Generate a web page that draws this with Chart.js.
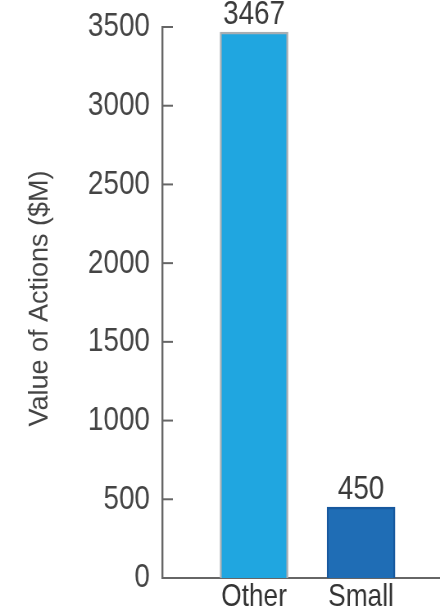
<!DOCTYPE html>
<html>
<head>
<meta charset="utf-8">
<script src="https://cdn.jsdelivr.net/npm/chart.js@4/dist/chart.umd.min.js"></script>
<style>
  html, body { margin: 0; padding: 0; background: #fff; overflow: hidden; }
  /* the reference uses a narrow face; draw wider and squeeze horizontally */
  #wrap { width: 537px; height: 611px; position: relative;
          transform: scaleX(0.8194); transform-origin: 0 0; }
</style>
</head>
<body>
<div id="wrap"><canvas id="chart"></canvas></div>
<script>
'use strict';

const SQUEEZE = 0.8194;

const categories = ['Other', 'Small'];
const values = [3467, 450];
const yTicks = [0, 500, 1000, 1500, 2000, 2500, 3000, 3500];
const yTitle = 'Value of Actions ($M)';

const FONT = "'Liberation Sans', Arial, sans-serif";

// value labels on top of bars, inward tick marks, rotated y title
const extras = {
  id: 'extras',
  afterDatasetsDraw(chart) {
    const ctx = chart.ctx;
    const meta = chart.getDatasetMeta(0);
    ctx.save();
    ctx.fillStyle = '#3a3a3a';
    ctx.font = '34px ' + FONT;
    ctx.textAlign = 'center';
    ctx.textBaseline = 'bottom';
    meta.data.forEach((bar, i) => {
      ctx.fillText(String(values[i]), bar.x, bar.y - 1);
    });

    const y = chart.scales.y;
    const left = chart.chartArea.left;
    ctx.strokeStyle = '#666';
    ctx.lineWidth = 2;
    yTicks.forEach(v => {
      const py = y.getPixelForValue(v);
      ctx.beginPath();
      ctx.moveTo(left, py);
      ctx.lineTo(left + 13, py);
      ctx.stroke();
    });
    ctx.restore();

    // title: undo the horizontal squeeze so the rotated glyphs keep full height
    ctx.save();
    ctx.translate(40 / SQUEEZE, (y.top + y.bottom) / 2 - 4);
    ctx.scale(1 / SQUEEZE, 1);
    ctx.rotate(-Math.PI / 2);
    ctx.fillStyle = '#444';
    ctx.font = '27px ' + FONT;
    ctx.textAlign = 'center';
    ctx.textBaseline = 'middle';
    ctx.fillText(yTitle, 0, 0);
    ctx.restore();
  }
};

new Chart(document.getElementById('chart').getContext('2d'), {
  type: 'bar',
  data: {
    datasets: [{
      data: values.map((v, i) => ({ x: i, y: v })),
      backgroundColor: ['#20a6e0', '#1f6db5'],
      borderColor: ['#a8aeb3', '#17589e'],
      borderWidth: 2.4,
      borderSkipped: 'bottom',
      barThickness: 83,
    }],
  },
  options: {
    responsive: true,
    maintainAspectRatio: false,
    animation: false,
    layout: { padding: { top: 27, left: 0, right: 0, bottom: 0 } },
    plugins: {
      legend: { display: false },
      tooltip: { enabled: false },
    },
    scales: {
      x: {
        type: 'linear',
        offset: false,
        min: -0.858,
        max: 1.738,
        afterBuildTicks: s => { s.ticks = categories.map((c, i) => ({ value: i })); },
        afterFit: s => { s.height = 33; s.paddingLeft = 0; s.paddingRight = 0; },
        ticks: {
          callback: v => categories[v],
          color: '#333',
          font: { family: FONT, size: 32 },
          padding: 0,
          autoSkip: false,
          maxRotation: 0,
        },
        grid: { display: false, drawTicks: false },
        border: { color: '#666', width: 2 },
      },
      y: {
        min: 0,
        max: 3500,
        afterBuildTicks: s => { s.ticks = yTicks.map(v => ({ value: v })); },
        afterFit: s => { s.width = 198; s.paddingTop = 0; s.paddingBottom = 0; },
        ticks: {
          callback: v => String(v),
          color: '#444',
          font: { family: FONT, size: 34 },
          padding: 15,
        },
        grid: { display: false, drawTicks: false },
        border: { color: '#666', width: 2.4 },
        title: { display: false },
      },
    },
  },
  plugins: [extras],
});
</script>
</body>
</html>
